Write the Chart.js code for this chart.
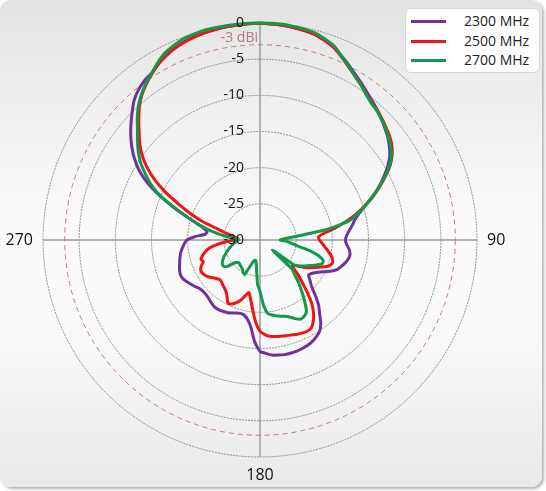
<!DOCTYPE html>
<html>
<head>
<meta charset="utf-8">
<script src="https://cdn.jsdelivr.net/npm/chart.js@4"></script>
<style>
	html, body { margin: 0; padding: 0; width: 546px; height: 491px; overflow: hidden; background: #fff; }
	#frame {
		position: absolute; left: 0; top: 0; width: 542px; height: 487px;
		border-radius: 11px;
		background: linear-gradient(to bottom, #e3e3e3 0%, #f1f1f1 25%, #fbfbfb 48%, #f8f8f8 70%, #e9e9e9 100%);
		box-shadow: 2px 2px 3px rgba(0, 0, 0, 0.3);
	}
	#chart { position: absolute; left: 0; top: 0; }
	#legend {
		position: absolute; left: 405px; top: 8px; width: 133px; height: 63px;
		background: #fff; border: 1px solid #d6d6d6; border-radius: 6px;
		font-family: "Open Sans", sans-serif; font-size: 14px; color: #222;
	}
	.item { position: absolute; left: 0; width: 133px; height: 20px; }
	.swatch { position: absolute; left: 5px; top: 9px; width: 35px; height: 3px; }
	.name { position: absolute; left: 58px; top: 0; line-height: 20px; }
</style>
</head>
<body>
<div id="frame"></div>
<canvas id="chart" width="546" height="491"></canvas>
<div id="legend"></div>
<script>
// azimuth in degrees, every 3 deg, clockwise from top
const angles = Array.from({ length: 120 }, (_, i) => i * 3);

const seriesNames = ['2300 MHz', '2500 MHz', '2700 MHz'];
const seriesColors = ['#7030a0', '#f01414', '#12994c'];

// gain in dBi, one value per angle
const gain2300 = [
	-0.05, -0.1, -0.15, -0.25, -0.4, -0.6, -1.0, -1.5, -2.2, -2.9,
	-3.6, -4.2, -4.8, -5.3, -5.8, -6.3, -6.8, -7.3, -7.9, -8.6,
	-9.6, -10.8, -12.0, -13.3, -14.7, -15.8, -16.6, -17.1, -17.6, -18.0,
	-18.2, -18.0, -17.6, -17.4, -17.5, -17.8, -18.2, -18.6, -19.4, -20.3,
	-21.0, -21.5, -21.7, -21.1, -20.4, -19.2, -17.9, -16.9, -15.7, -14.9,
	-14.5, -14.2, -14.0, -13.9, -13.8, -13.8, -13.8, -13.9, -14.0, -14.3,
	-14.6, -15.9, -17.9, -18.9, -19.4, -19.5, -19.4, -19.2, -19.0, -18.9,
	-18.8, -18.8, -18.9, -19.1, -19.3, -19.4, -19.4, -19.3, -19.0, -18.7,
	-18.4, -18.1, -18.0, -18.1, -18.3, -18.5, -18.7, -18.9, -19.2, -19.5,
	-19.9, -21.0, -22.4, -22.6, -22.0, -20.8, -19.1, -17.0, -14.7, -12.5,
	-10.7, -9.3, -8.1, -7.0, -6.0, -5.0, -4.0, -3.3, -2.8, -2.5,
	-1.9, -1.4, -1.0, -0.7, -0.5, -0.35, -0.25, -0.15, -0.1, -0.05
];
const gain2500 = [
	-0.05, -0.1, -0.15, -0.25, -0.4, -0.6, -1.0, -1.5, -2.3, -3.1,
	-3.8, -4.4, -5.0, -5.5, -5.8, -6.2, -6.6, -7.0, -7.5, -8.2,
	-9.2, -10.5, -11.9, -13.3, -14.8, -16.3, -17.9, -19.5, -21.1, -21.9,
	-21.8, -21.4, -21.0, -20.5, -20.0, -19.6, -19.5, -19.9, -20.8, -21.6,
	-22.3, -23.2, -24.0, -24.3, -23.0, -21.8, -20.2, -18.6, -17.4, -16.5,
	-15.9, -15.8, -15.9, -16.0, -16.2, -16.3, -16.4, -16.5, -16.6, -16.9,
	-17.4, -18.6, -20.3, -21.7, -22.6, -22.0, -21.2, -20.7, -20.3, -20.2,
	-20.9, -21.4, -21.7, -21.9, -22.1, -22.2, -22.0, -21.7, -21.3, -21.0,
	-20.8, -20.8, -21.1, -21.6, -21.4, -21.8, -22.3, -22.9, -24.0, -25.3,
	-26.4, -27.0, -26.6, -25.9, -25.0, -23.7, -21.5, -19.6, -17.6, -15.2,
	-13.1, -11.3, -9.8, -8.6, -7.5, -6.3, -5.1, -4.1, -3.3, -2.6,
	-1.9, -1.4, -1.0, -0.7, -0.5, -0.35, -0.25, -0.15, -0.1, -0.05
];
const gain2700 = [
	0, 0, 0, -0.1, -0.2, -0.4, -0.8, -1.3, -2.2, -3.0,
	-3.8, -4.4, -5.1, -5.6, -5.9, -6.3, -6.7, -7.2, -7.7, -8.3,
	-9.3, -10.6, -12.0, -13.4, -14.7, -16.0, -17.5, -20.5, -24.8, -26.6,
	-27.2, -26.3, -25.6, -24.8, -23.0, -21.6, -20.8, -20.8, -21.5, -22.2,
	-22.8, -23.4, -24.1, -27.8, -24.1, -23.2, -22.0, -20.8, -19.5, -18.2,
	-17.8, -17.7, -18.1, -18.6, -18.9, -19.1, -19.3, -19.5, -19.8, -21.0,
	-22.9, -23.8, -25.6, -26.7, -27.1, -27.1, -26.8, -26.0, -24.8, -24.9,
	-25.2, -25.4, -25.5, -25.6, -25.7, -25.6, -25.3, -24.2, -23.8, -23.8,
	-24.0, -24.3, -24.6, -25.0, -25.3, -25.6, -25.9, -26.2, -26.5, -26.8,
	-27.0, -26.6, -25.3, -23.9, -22.4, -20.8, -19.2, -17.2, -14.9, -13.1,
	-11.7, -10.3, -9.2, -8.2, -7.2, -6.0, -4.9, -4.0, -3.2, -2.5,
	-1.7, -1.0, -0.6, -0.25, -0.1, 0, 0, 0, 0, 0
];

const ringTicks = [0, -5, -10, -15, -20, -25, -30];
const axisAngles = [0, 90, 180, 270];
const axisLabels = ['', '90', '180', '270'];
const refLevel = -3;
const refLabel = '-3 dBi';

const fontFamily = '"Open Sans", sans-serif';

// legend (html)
const legendEl = document.getElementById('legend');
seriesNames.forEach((name, i) => {
	const item = document.createElement('div');
	item.className = 'item';
	item.style.top = (2 + i * 19.5) + 'px';
	item.innerHTML = `<div class="swatch" style="background:${seriesColors[i]}"></div><div class="name">${name}</div>`;
	legendEl.appendChild(item);
});

// extra bits drawn on the radial scale: -3 dBi ring, ring values, axis names
const polarExtras = {
	id: 'polarExtras',
	beforeDatasetsDraw(chart) {
		const r = chart.scales.r;
		const ctx = chart.ctx;
		ctx.save();
		ctx.strokeStyle = '#c27a7a';
		ctx.lineWidth = 1;
		ctx.setLineDash([5, 4]);
		ctx.beginPath();
		ctx.arc(r.xCenter, r.yCenter, r.getDistanceFromCenterForValue(refLevel), 0, Math.PI * 2);
		ctx.stroke();
		ctx.restore();
	},
	afterDatasetsDraw(chart) {
		const r = chart.scales.r;
		const ctx = chart.ctx;
		ctx.save();
		ctx.font = `14px ${fontFamily}`;
		ctx.textBaseline = 'middle';
		ctx.textAlign = 'right';
		ctx.fillStyle = '#111';
		ringTicks.forEach(v => {
			const y = r.yCenter - r.getDistanceFromCenterForValue(v);
			ctx.fillText(String(v), r.xCenter - 16, y);
		});

		ctx.fillStyle = '#b77676';
		const yRef = r.yCenter - r.getDistanceFromCenterForValue(refLevel);
		ctx.fillText(refLabel, r.xCenter - 2, yRef - 7);

		ctx.font = `16px ${fontFamily}`;
		ctx.fillStyle = '#111';
		axisAngles.forEach((a, i) => {
			if (!axisLabels[i]) return;
			const p = r.getPointPosition(angles.indexOf(a), r.drawingArea + 10);
			if (a === 90) {
				ctx.textAlign = 'left';
				ctx.textBaseline = 'middle';
			} else if (a === 270) {
				ctx.textAlign = 'right';
				ctx.textBaseline = 'middle';
			} else {
				ctx.textAlign = 'center';
				ctx.textBaseline = 'top';
			}
			ctx.fillText(axisLabels[i], p.x, p.y);
		});
		ctx.restore();
	}
};

const gains = [gain2300, gain2500, gain2700];

const chart = new Chart(document.getElementById('chart'), {
	type: 'radar',
	data: {
		labels: angles,
		datasets: gains.map((g, i) => ({
			label: seriesNames[i],
			data: g,
			borderColor: seriesColors[i],
			backgroundColor: 'transparent',
			borderWidth: 3,
			pointRadius: 0,
			fill: false,
			tension: 0.15,
			order: 2 - i
		}))
	},
	options: {
		responsive: false,
		animation: false,
		layout: { padding: { left: 43, right: 69, top: 23, bottom: 34 } },
		plugins: {
			legend: { display: false },
			tooltip: { enabled: false }
		},
		scales: {
			r: {
				min: -30,
				max: 0,
				ticks: { stepSize: 5, display: false },
				grid: { circular: true, color: '#858585', lineWidth: 0.9 },
				border: { dash: [2, 1] },
				angleLines: {
					display: true,
					color: '#9a9a9a',
					lineWidth: c => axisAngles.includes(angles[c.index]) ? 1.5 : 0
				},
				pointLabels: { display: false }
			}
		}
	},
	plugins: [polarExtras]
});
</script>
</body>
</html>
